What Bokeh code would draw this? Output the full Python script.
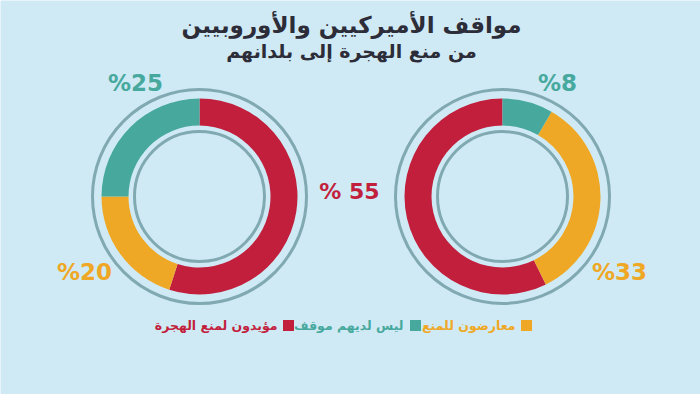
import numpy as np
from bokeh.plotting import figure
from bokeh.models import Range1d, ColumnDataSource
from bokeh.core.properties import value
from bokeh.embed import file_html
from bokeh.resources import INLINE

# ---- data ----
title = "مواقف الأميركيين والأوروبيين"
subtitle = "من منع الهجرة إلى بلدانهم"
categories = ["مؤيدون لمنع الهجرة", "معارضون للمنع", "ليس لديهم موقف"]
left_values = [55, 20, 25]
right_values = [55, 33, 8]
colors = ["#c21f3d", "#efa825", "#47a99d"]

BG = "#cfeaf5"
RING = "#81a9b1"
DARK = "#2c2d38"
FONT = value("DejaVu Sans")

W, H = 700, 394
p = figure(width=W, height=H, x_range=Range1d(0, W), y_range=Range1d(0, H),
           output_backend="svg", toolbar_location=None,
           x_axis_type=None, y_axis_type=None, min_border=0,
           background_fill_color=BG, border_fill_color=BG,
           outline_line_color=None)


def Y(ref_y):
    # convert a screen y into data y
    return H - ref_y


def donut(cx, cy, vals, clockwise):
    frac = np.array(vals, dtype=float) / sum(vals)
    cum = np.concatenate([[0.0], np.cumsum(frac)]) * 2 * np.pi
    if clockwise:
        start = np.pi / 2 - cum[1:]
        end = np.pi / 2 - cum[:-1]
    else:
        start = np.pi / 2 + cum[:-1]
        end = np.pi / 2 + cum[1:]
    src = ColumnDataSource(dict(start=start, end=end, color=colors))
    p.annular_wedge(x=cx, y=cy, inner_radius=71, outer_radius=98,
                    start_angle="start", end_angle="end", color="color",
                    line_color=None, source=src)
    p.circle(x=[cx], y=[cy], radius=107, fill_color=None,
             line_color=RING, line_width=3)
    p.circle(x=[cx], y=[cy], radius=65, fill_color=None,
             line_color=RING, line_width=3)


lcx, rcx, cy = 199, 502, Y(196)
donut(lcx, cy, left_values, True)
donut(rcx, cy, right_values, False)

# titles
p.text(x=[351], y=[Y(24)], text=[title], text_font=FONT, text_font_style="bold",
       text_font_size="23px", text_color=DARK, text_align="center", text_baseline="middle")
p.text(x=[351], y=[Y(50)], text=[subtitle], text_font=FONT, text_font_style="bold",
       text_font_size="19px", text_color=DARK, text_align="center", text_baseline="middle")

# percentage labels
lab_font = dict(text_font=FONT, text_font_style="bold", text_font_size="23px",
                text_align="center", text_baseline="middle")
p.text(x=[135], y=[Y(82)], text=[f"%{left_values[2]}"], text_color=colors[2], **lab_font)
p.text(x=[84], y=[Y(271)], text=[f"%{left_values[1]}"], text_color=colors[1], **lab_font)
p.text(x=[557], y=[Y(82)], text=[f"%{right_values[2]}"], text_color=colors[2], **lab_font)
p.text(x=[619], y=[Y(271)], text=[f"%{right_values[1]}"], text_color=colors[1], **lab_font)
p.text(x=[349], y=[Y(191)], text=[f"% {left_values[0]}"], text_color=colors[0],
       text_font=FONT, text_font_style="bold", text_font_size="22px",
       text_align="center", text_baseline="middle")

# legend (right to left: opposed, no position, supporters)
sq_x = [288, 526, 415]
tx_x = [277, 515, 403]
p.scatter(x=sq_x, y=[Y(325)] * 3, marker="square", size=11, color=colors, line_color=None)
p.text(x=tx_x, y=[Y(325)] * 3, text=categories, text_color=colors, text_font=FONT,
       text_font_style="bold", text_font_size="12.5px", text_align="right",
       text_baseline="middle")

open("out.html", "w").write(file_html(p, INLINE))
